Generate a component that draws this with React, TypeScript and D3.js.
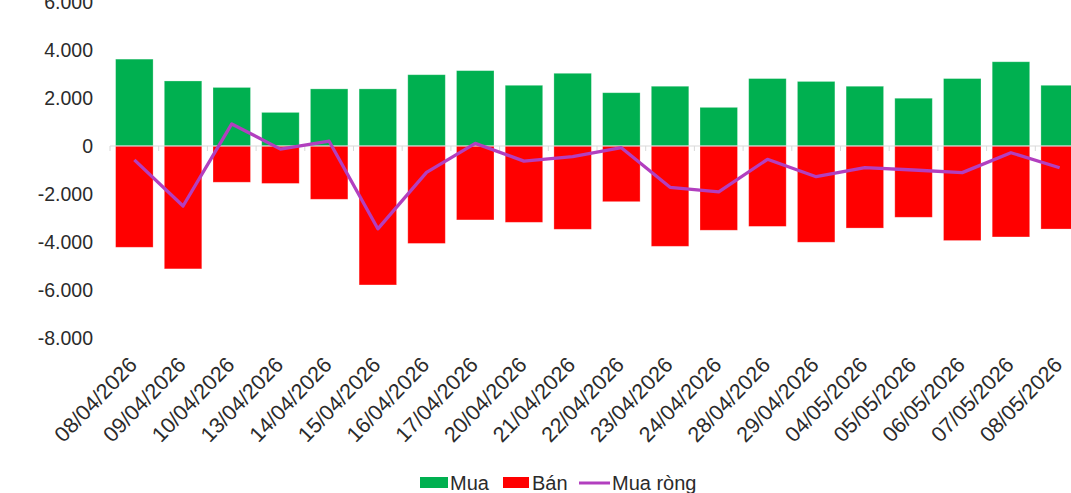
import { useRef, useEffect } from "react";
import * as d3 from "d3";

const dates = [
  "08/04/2026", "09/04/2026", "10/04/2026", "13/04/2026", "14/04/2026",
  "15/04/2026", "16/04/2026", "17/04/2026", "20/04/2026", "21/04/2026",
  "22/04/2026", "23/04/2026", "24/04/2026", "28/04/2026", "29/04/2026",
  "04/05/2026", "05/05/2026", "06/05/2026", "07/05/2026", "08/05/2026",
];

const buy = [
  3620, 2710, 2440, 1400, 2380, 2380, 2970, 3140, 2530, 3030,
  2220, 2490, 1610, 2810, 2690, 2490, 1990, 2810, 3510, 2530,
];

const sell = [
  -4220, -5120, -1510, -1560, -2220, -5790, -4060, -3080, -3180, -3470,
  -2320, -4180, -3510, -3350, -4010, -3420, -2970, -3940, -3790, -3460,
];

const net = [
  -580, -2500, 920, -130, 200, -3450, -1100, 110, -630, -440,
  -70, -1720, -1910, -555, -1280, -905, -1000, -1110, -280, -905,
];

const yTicks = [-8000, -6000, -4000, -2000, 0, 2000, 4000, 6000];

const GREEN = "#00B050";
const RED = "#FF0000";
const PURPLE = "#B23FBF";
const TEXT = "#2b2b2b";
const FONT = "'Liberation Sans', Arial, sans-serif";

export default function App() {
  const svgRef = useRef<SVGSVGElement>(null);

  useEffect(() => {
    if (!svgRef.current) return;
    const svg = d3.select(svgRef.current);
    svg.selectAll("*").remove();

    const width = 1071;
    const height = 493;
    const left = 110;
    const right = 1084;

    const x = d3
      .scaleBand<string>()
      .domain(dates)
      .range([left, right])
      .paddingInner(0.23)
      .paddingOuter(0.115);
    const step = x.step();
    const y = d3.scaleLinear().domain([-8000, 6000]).range([338, 2]);

    svg.attr("width", width).attr("height", height);

    // buy bars
    svg
      .append("g")
      .selectAll("rect")
      .data(buy)
      .join("rect")
      .attr("x", (_, i) => x(dates[i])!)
      .attr("y", (d) => y(d))
      .attr("width", x.bandwidth())
      .attr("height", (d) => y(0) - y(d))
      .attr("fill", GREEN)
      .attr("stroke", "#ffffff")
      .attr("stroke-opacity", 0.35)
      .attr("stroke-width", 0.8);

    // sell bars
    svg
      .append("g")
      .selectAll("rect")
      .data(sell)
      .join("rect")
      .attr("x", (_, i) => x(dates[i])!)
      .attr("y", y(0))
      .attr("width", x.bandwidth())
      .attr("height", (d) => y(d) - y(0))
      .attr("fill", RED)
      .attr("stroke", "#ffffff")
      .attr("stroke-opacity", 0.35)
      .attr("stroke-width", 0.8);

    // zero axis + ticks at category boundaries
    const axis = svg.append("g").attr("stroke", "#d9d9d9");
    axis
      .append("line")
      .attr("x1", left)
      .attr("x2", right)
      .attr("y1", y(0))
      .attr("y2", y(0))
      .attr("stroke-width", 1.2);
    const bounds = dates.map((d) => x(d)! - (step - x.bandwidth()) / 2);
    bounds.push(right);
    axis
      .selectAll("line.tick")
      .data(bounds)
      .join("line")
      .attr("class", "tick")
      .attr("x1", (d) => d)
      .attr("x2", (d) => d)
      .attr("y1", y(0))
      .attr("y2", y(0) + 5)
      .attr("stroke-width", 1);

    // net line
    const line = d3
      .line<number>()
      .x((_, i) => x(dates[i])! + x.bandwidth() / 2)
      .y((d) => y(d));
    svg
      .append("path")
      .datum(net)
      .attr("d", line)
      .attr("fill", "none")
      .attr("stroke", PURPLE)
      .attr("stroke-width", 3.3)
      .attr("stroke-linejoin", "round");

    // y labels
    const fmt = (v: number) =>
      (v < 0 ? "-" : "") + d3.format(",")(Math.abs(v)).replace(/,/g, ".");
    svg
      .append("g")
      .selectAll("text")
      .data(yTicks)
      .join("text")
      .attr("x", 93)
      .attr("y", (d) => y(d))
      .attr("dy", "0.35em")
      .attr("text-anchor", "end")
      .attr("fill", TEXT)
      .attr("font-family", FONT)
      .attr("font-size", 19.5)
      .text(fmt);

    // x labels
    svg
      .append("g")
      .selectAll("text")
      .data(dates)
      .join("text")
      .attr(
        "transform",
        (d) => `translate(${x(d)! + x.bandwidth() / 2 + 4},${366}) rotate(-46)`,
      )
      .attr("text-anchor", "end")
      .attr("fill", TEXT)
      .attr("font-family", FONT)
      .attr("font-size", 21.5)
      .text((d) => d);

    // legend
    const lg = svg.append("g").attr("font-family", FONT).attr("font-size", 20).attr("fill", TEXT);
    lg.append("rect").attr("x", 420).attr("y", 477).attr("width", 28).attr("height", 11).attr("fill", GREEN);
    lg.append("text").attr("x", 450).attr("y", 483).attr("dy", "0.35em").text("Mua");
    lg.append("rect").attr("x", 503).attr("y", 477).attr("width", 26).attr("height", 11).attr("fill", RED);
    lg.append("text").attr("x", 532).attr("y", 483).attr("dy", "0.35em").text("Bán");
    lg.append("line")
      .attr("x1", 579)
      .attr("x2", 610)
      .attr("y1", 483)
      .attr("y2", 483)
      .attr("stroke", PURPLE)
      .attr("stroke-width", 3);
    lg.append("text").attr("x", 612).attr("y", 483).attr("dy", "0.35em").text("Mua ròng");
  }, []);

  return (
    <svg
      ref={svgRef}
      style={{ position: "absolute", left: 0, top: 0, background: "#ffffff" }}
    />
  );
}
